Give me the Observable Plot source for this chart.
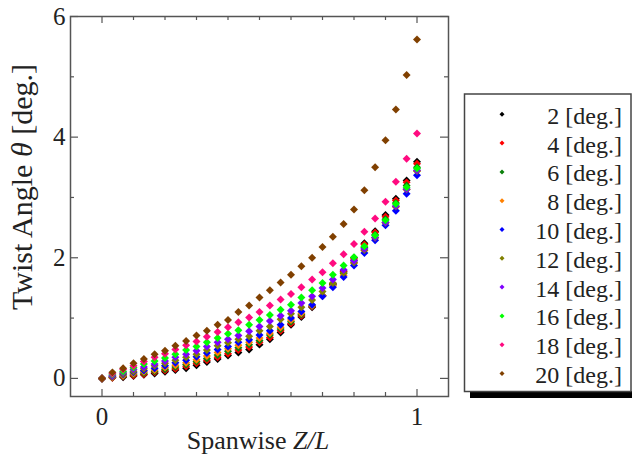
<!DOCTYPE html>
<html>
<head>
<meta charset="utf-8">
<script src="https://cdn.jsdelivr.net/npm/d3@7"></script>
<script src="https://cdn.jsdelivr.net/npm/@observablehq/plot@0.6"></script>
<style>
  body { margin: 0; background: #fff; }
  #chart { width: 632px; height: 457px; }
</style>
</head>
<body>
<div id="chart"></div>
<script>
// ---- data ----
const spanwise = [0.000,0.033,0.067,0.100,0.133,0.167,0.200,0.233,0.267,0.300,0.333,0.367,0.400,0.433,0.467,0.500,0.533,0.567,0.600,0.633,0.667,0.700,0.733,0.767,0.800,0.833,0.867,0.900,0.933,0.967,1.000];
const pitchLabels = ["2 [deg.]","4 [deg.]","6 [deg.]","8 [deg.]","10 [deg.]","12 [deg.]","14 [deg.]","16 [deg.]","18 [deg.]","20 [deg.]"];
const theta2  = [0,0.01,0.02,0.04,0.06,0.08,0.11,0.14,0.17,0.22,0.27,0.32,0.38,0.43,0.48,0.56,0.65,0.76,0.89,1.02,1.18,1.37,1.57,1.78,2.00,2.24,2.44,2.71,2.98,3.28,3.59];
const theta4  = [0,0.01,0.03,0.05,0.07,0.10,0.13,0.16,0.20,0.25,0.30,0.35,0.41,0.47,0.52,0.60,0.68,0.79,0.91,1.04,1.19,1.37,1.56,1.77,1.98,2.22,2.42,2.68,2.95,3.25,3.56];
const theta6  = [0,0.02,0.04,0.07,0.09,0.12,0.15,0.19,0.23,0.28,0.33,0.39,0.45,0.51,0.56,0.63,0.72,0.82,0.94,1.06,1.20,1.37,1.55,1.74,1.95,2.17,2.38,2.64,2.91,3.20,3.50];
const theta8  = [0,0.02,0.05,0.08,0.11,0.14,0.18,0.22,0.26,0.31,0.37,0.43,0.49,0.55,0.60,0.67,0.75,0.85,0.97,1.08,1.21,1.37,1.53,1.71,1.91,2.12,2.33,2.58,2.84,3.13,3.44];
const theta10 = [0,0.03,0.07,0.10,0.13,0.17,0.21,0.26,0.30,0.36,0.42,0.48,0.53,0.60,0.64,0.72,0.79,0.89,1.00,1.11,1.22,1.36,1.51,1.68,1.87,2.08,2.29,2.54,2.78,3.06,3.37];
const theta12 = [0,0.04,0.08,0.12,0.16,0.21,0.25,0.30,0.35,0.40,0.47,0.54,0.59,0.65,0.70,0.79,0.86,0.98,1.07,1.18,1.30,1.44,1.58,1.75,1.92,2.13,2.33,2.58,2.85,3.13,3.44];
const theta14 = [0,0.05,0.10,0.15,0.19,0.24,0.29,0.35,0.40,0.46,0.53,0.60,0.65,0.71,0.78,0.86,0.95,1.04,1.12,1.25,1.36,1.50,1.64,1.80,1.95,2.15,2.34,2.59,2.86,3.14,3.45];
const theta16 = [0,0.07,0.12,0.18,0.24,0.29,0.34,0.40,0.47,0.53,0.60,0.67,0.74,0.80,0.89,0.97,1.05,1.14,1.22,1.34,1.46,1.58,1.72,1.87,2.01,2.19,2.37,2.62,2.89,3.17,3.48];
const theta18 = [0,0.08,0.15,0.21,0.28,0.35,0.41,0.48,0.55,0.61,0.69,0.77,0.85,0.93,1.01,1.10,1.21,1.31,1.40,1.51,1.64,1.76,1.91,2.06,2.23,2.43,2.65,2.93,3.26,3.64,4.06];
const theta20 = [0,0.10,0.17,0.25,0.32,0.40,0.46,0.54,0.62,0.71,0.79,0.89,0.97,1.10,1.21,1.34,1.46,1.59,1.72,1.86,2.00,2.18,2.35,2.56,2.80,3.12,3.50,3.95,4.46,5.03,5.62];
const xTickLabels = [0, 1];
const xMinorTicks = [0.1,0.2,0.3,0.4,0.5,0.6,0.7,0.8,0.9];
const yTickLabels = [0, 2, 4, 6];
const yMinorTicks = [1, 3, 5];

// ---- styles ----
const seriesColors = ["#000000","#ff0000","#0a800a","#ff8000","#0000ff","#808000","#8000ff","#00ff00","#ff0a80","#804000"];
const serif = "'Liberation Serif', 'Times New Roman', serif";

const allSeries = [theta2,theta4,theta6,theta8,theta10,theta12,theta14,theta16,theta18,theta20];
const rows = [];
allSeries.forEach((vals, k) => vals.forEach((v, i) => rows.push({z: spanwise[i], theta: v, pitch: pitchLabels[k]})));

const W = 632, H = 457, mL = 70, mR = 184, mT = 16, mB = 61;
const iw = W - mL - mR, ih = H - mT - mB;
const axisStroke = "#555";

const chart = Plot.plot({
  width: W, height: H,
  marginLeft: mL, marginRight: mR, marginTop: mT, marginBottom: mB,
  x: {domain: [-0.1, 1.1]},
  y: {domain: [-0.3, 6]},
  color: {domain: pitchLabels, range: seriesColors},
  style: {fontFamily: serif, color: "#222", background: "white", overflow: "visible"},
  marks: [
    Plot.tickX(xTickLabels, {x: d => d, insetTop: ih - 7, stroke: axisStroke, strokeWidth: 1.2}),
    Plot.tickX(xTickLabels, {x: d => d, insetBottom: ih - 7, stroke: axisStroke, strokeWidth: 1.2}),
    Plot.tickX(xMinorTicks, {x: d => d, insetTop: ih - 4, stroke: axisStroke, strokeWidth: 1.2}),
    Plot.tickX(xMinorTicks, {x: d => d, insetBottom: ih - 4, stroke: axisStroke, strokeWidth: 1.2}),
    Plot.tickY(yTickLabels, {y: d => d, insetRight: iw - 8, stroke: axisStroke, strokeWidth: 1.2}),
    Plot.tickY(yTickLabels, {y: d => d, insetLeft: iw - 8, stroke: axisStroke, strokeWidth: 1.2}),
    Plot.tickY(yMinorTicks, {y: d => d, insetRight: iw - 4, stroke: axisStroke, strokeWidth: 1.2}),
    Plot.tickY(yMinorTicks, {y: d => d, insetLeft: iw - 4, stroke: axisStroke, strokeWidth: 1.2}),
    Plot.frame({stroke: axisStroke, strokeWidth: 1.5}),
    Plot.axisX(xTickLabels, {tickSize: 0, tickPadding: 11, fontSize: 25, fontFamily: serif, tickFormat: d3.format("d"), label: null}),
    Plot.axisY(yTickLabels, {tickSize: 0, tickPadding: 5, fontSize: 25, fontFamily: serif, tickFormat: d3.format("d"), label: null}),
    Plot.dot(rows, {x: "z", y: "theta", fill: "pitch", symbol: "diamond2", r: 3.6})
  ]
});
document.getElementById("chart").appendChild(chart);

const svg = d3.select(chart);
// force serif on every Plot-generated text
svg.selectAll("text").style("font-family", serif).style("font-variant", "normal");

// ---- axis titles ----
const yTitle = svg.append("text")
  .attr("transform", "translate(32,187) rotate(-90)")
  .attr("text-anchor", "middle")
  .style("font-family", serif).attr("font-size", 30).attr("fill", "#222");
yTitle.append("tspan").text("Twist Angle ");
yTitle.append("tspan").attr("font-style", "italic").text("θ");
yTitle.append("tspan").text(" [deg.]");

const xTitle = svg.append("text")
  .attr("x", 258).attr("y", 449)
  .attr("text-anchor", "middle")
  .style("font-family", serif).attr("font-size", 26).attr("fill", "#222");
xTitle.append("tspan").text("Spanwise ");
xTitle.append("tspan").attr("font-style", "italic").text("Z/L");

// ---- legend ----
const lg = svg.append("g");
lg.append("rect").attr("x", 470).attr("y", 391).attr("width", 170).attr("height", 7).attr("fill", "#000");
lg.append("rect").attr("x", 464.5).attr("y", 94).attr("width", 166.5).attr("height", 297.5)
  .attr("fill", "#fff").attr("stroke", "#444").attr("stroke-width", 1.5);
pitchLabels.forEach((lab, k) => {
  const cy = 114.3 + 28.8 * k;
  lg.append("path")
    .attr("transform", `translate(502,${cy})`)
    .attr("d", d3.symbol(d3.symbolDiamond2, 16)())
    .attr("fill", seriesColors[k]);
  lg.append("text")
    .attr("x", 622).attr("y", cy + 9.5)
    .attr("text-anchor", "end")
    .style("font-family", serif).attr("font-size", 24).attr("fill", "#222")
    .text(lab);
});
</script>
</body>
</html>
